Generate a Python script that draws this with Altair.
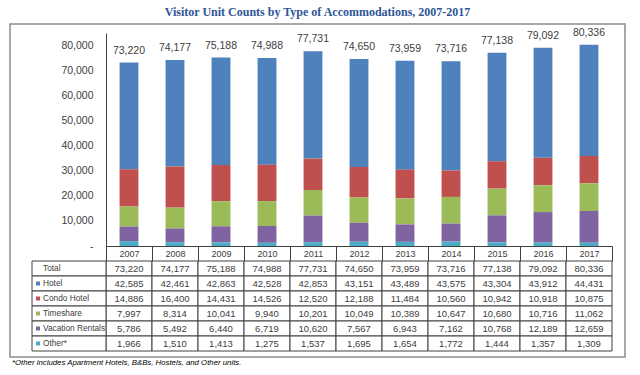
import altair as alt
import pandas as pd

years = ["2007", "2008", "2009", "2010", "2011", "2012", "2013", "2014", "2015", "2016", "2017"]
hotel = [42585, 42461, 42863, 42528, 42853, 43151, 43489, 43575, 43304, 43912, 44431]
condo_hotel = [14886, 16400, 14431, 14526, 12520, 12188, 11484, 10560, 10942, 10918, 10875]
timeshare = [7997, 8314, 10041, 9940, 10201, 10049, 10389, 10647, 10680, 10716, 11062]
vacation_rentals = [5786, 5492, 6440, 6719, 10620, 7567, 6943, 7162, 10768, 12189, 12659]
other = [1966, 1510, 1413, 1275, 1537, 1695, 1654, 1772, 1444, 1357, 1309]
total = [73220, 74177, 75188, 74988, 77731, 74650, 73959, 73716, 77138, 79092, 80336]

categories = ["Hotel", "Condo Hotel", "Timeshare", "Vacation Rentals", "Other*"]
colors = ["#4F81BD", "#C0504D", "#9BBB59", "#8064A2", "#4BACC6"]
series = [hotel, condo_hotel, timeshare, vacation_rentals, other]
row_names = ["Total"] + categories
y_ticks = [0, 10000, 20000, 30000, 40000, 50000, 60000, 70000, 80000]

title_text = "Visitor Unit Counts by Type of Accommodations, 2007-2017"
footnote = "*Other includes Apartment Hotels, B&Bs, Hostels, and Other units."

FONT = "Liberation Sans, Arial"
GRAY = "#404040"

# long data for the stacked bars
rows = []
for ci, (cat, vals) in enumerate(zip(categories, series)):
    for y, v in zip(years, vals):
        rows.append({"year": y, "category": cat, "value": v, "stack_order": len(categories) - ci})
bars_df = pd.DataFrame(rows)
totals_df = pd.DataFrame({"year": years, "total": total})

# table data
table_rows = []
for y, t in zip(years, total):
    table_rows.append({"year": y, "row": "Total", "value": t})
for cat, vals in zip(categories, series):
    for y, v in zip(years, vals):
        table_rows.append({"year": y, "row": cat, "value": v})
table_df = pd.DataFrame(table_rows)
labels_df = pd.DataFrame({"row": row_names})
swatch_df = pd.DataFrame({"row": categories})

x_scale = alt.Scale(domain=years, paddingInner=0, paddingOuter=0)
y_scale = alt.Scale(domain=[0, 85000], nice=False)
color_scale = alt.Scale(domain=categories, range=colors)

x_axis = alt.Axis(title=None, labelAngle=0, tickBand="extent", tickSize=15,
                  labelPadding=-12, labelFont=FONT, labelFontSize=9,
                  labelColor=GRAY, tickColor=GRAY, domainColor=GRAY)
y_axis = alt.Axis(title=None, values=y_ticks, tickCount=9, ticks=False, grid=False,
                  labelOverlap=False,
                  labelExpr="datum.value == 0 ? '-' : format(datum.value, ',')",
                  labelFont=FONT, labelFontSize=10.5, labelColor=GRAY,
                  labelPadding=13, domainColor=GRAY)

bars = alt.Chart(bars_df).mark_bar(width=alt.RelativeBandSize(0.41)).encode(
    x=alt.X("year:N", scale=x_scale, sort=years, axis=x_axis),
    y=alt.Y("value:Q", stack="zero", scale=y_scale, axis=y_axis),
    color=alt.Color("category:N", scale=color_scale, legend=None),
    order=alt.Order("stack_order:Q", sort="ascending"),
)

totals = alt.Chart(totals_df).mark_text(dy=-12, font=FONT, fontSize=10.5, color=GRAY).encode(
    x=alt.X("year:N", scale=x_scale, sort=years, axis=x_axis),
    y=alt.Y("total:Q", scale=y_scale, axis=y_axis),
    text=alt.Text("total:Q", format=","),
)

top = alt.layer(bars, totals).properties(width=506, height=213)

frame = alt.Chart(pd.DataFrame({"k": [0]})).mark_rect(
    fillOpacity=0, stroke="#8C8C8C", strokeWidth=1.5
).encode(x=alt.value(-96), x2=alt.value(519), y=alt.value(-237), y2=alt.value(96))

cells = alt.Chart(table_df).mark_rect(fill="white", stroke=GRAY, strokeWidth=1).encode(
    x=alt.X("year:N", scale=x_scale, sort=years, axis=None),
    y=alt.Y("row:N", sort=row_names, scale=alt.Scale(domain=row_names, paddingInner=0, paddingOuter=0), axis=None),
)
cell_text = alt.Chart(table_df).mark_text(font=FONT, fontSize=9.5, color=GRAY).encode(
    x=alt.X("year:N", scale=x_scale, sort=years),
    y=alt.Y("row:N", sort=row_names),
    text=alt.Text("value:Q", format=","),
)
label_cells = alt.Chart(labels_df).mark_rect(fill="white", stroke=GRAY, strokeWidth=1).encode(
    x=alt.value(-74), x2=alt.value(0),
    y=alt.Y("row:N", sort=row_names),
)
label_text = alt.Chart(labels_df).mark_text(align="left", font=FONT, fontSize=8.3, color=GRAY).encode(
    x=alt.value(-63),
    y=alt.Y("row:N", sort=row_names),
    text="row:N",
)
swatches = alt.Chart(swatch_df).mark_square(size=16, opacity=1).encode(
    x=alt.value(-68),
    y=alt.Y("row:N", sort=row_names),
    color=alt.Color("row:N", scale=color_scale, legend=None),
)
foot = alt.Chart(pd.DataFrame({"t": [footnote]})).mark_text(
    align="left", baseline="middle", font=FONT, fontSize=7.8,
    fontStyle="italic", color="#000000"
).encode(x=alt.value(-94), y=alt.value(102), text="t:N")

bottom = alt.layer(frame, cells, cell_text, label_cells, label_text, swatches, foot).properties(
    width=506, height=90
)

chart = alt.vconcat(top, bottom, spacing=15, bounds="flush").properties(
    title=alt.TitleParams(title_text, font="Liberation Serif", fontSize=12, fontWeight="bold",
                          color="#2E5597", anchor="middle", offset=4),
    padding={"left": 9, "top": 6, "right": 5, "bottom": 5},
).configure_view(strokeWidth=0)

chart.save("out.html", embed_options={"renderer": "svg", "actions": False})
